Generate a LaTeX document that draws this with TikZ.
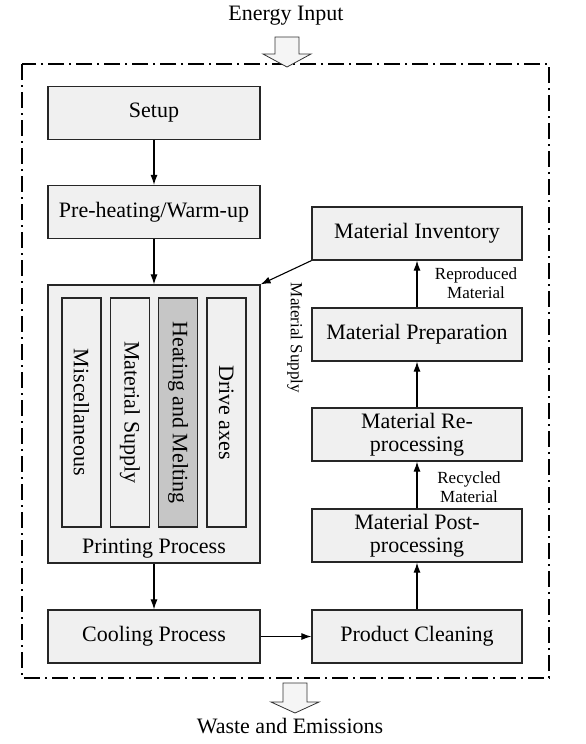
\documentclass[tikz,border=0pt]{standalone}
\usepackage{fontspec}
\setmainfont{Liberation Serif}
\usepackage{tikz}
\usetikzlibrary{positioning,arrows.meta}
\tikzset{%
  every stage/.style={
    rectangle,
    draw=black!85,
    line width=1.2pt,
    fill=gray!12,
    minimum width=212pt,
    minimum height=53pt,
    align=center,
    font=\fontsize{22}{23}\selectfont
  },
  sub stage/.style={
    every stage,
    minimum width=229pt,
    minimum height=39pt,
    rotate=-90
  },
  flow label/.style={
    align=center,
    font=\fontsize{17}{19}\selectfont
  },
  block arrow/.style={
    draw=black!80,
    line width=0.8pt,
    fill=gray!8
  },
  flow/.style={
    line width=1.1pt,
    ->
  },
}

\begin{document}
\begin{tikzpicture}[> = {Latex[length=10pt,width=7pt]}, x=1pt, y=-1pt]
\useasboundingbox (0,0) rectangle (586,744);
% system boundary
\draw[line width=1.5pt, dash pattern=on 16pt off 5pt on 2pt off 5pt] (22,64) rectangle (549,678);
\node[font=\fontsize{22}{23}\selectfont] (energy) at (286,16) {Energy Input};
\node[font=\fontsize{22}{23}\selectfont] (waste) at (290,726) {Waste and Emissions};
\draw[block arrow] (275,37) -- (299,37) -- (299,54) -- (311,54) -- (287,67) -- (263,54) -- (275,54) -- cycle;
\draw[block arrow] (283,683) -- (307,683) -- (307,702) -- (319,702) -- (295,713) -- (271,702) -- (283,702) -- cycle;

% left column
\node[every stage] (setup) at (154,113) {Setup};
\node[every stage] (preheat) at (154,212) {Pre-heating/Warm-up};
\node[every stage, minimum height=278pt] (print) at (154,424) {};
\node[font=\fontsize{22}{23}\selectfont] (print_label) at (154,549) {Printing Process};
\foreach \i/\name/\shade/\txt in {0/misc/12/Miscellaneous, 1/supply/12/Material Supply, 2/heat/45/Heating and Melting, 3/drive/12/Drive axes}
    \node[sub stage, fill=gray!\shade] (sub_\name) at (81.5+48.3*\i,412.5) {\txt};
\node[every stage] (cool) at (154,636.5) {Cooling Process};

% right column
\node[every stage, minimum width=210pt] (inventory) at (417,233.5) {Material Inventory};
\node[every stage, minimum width=210pt] (prep) at (417,334.5) {Material Preparation};
\node[every stage, minimum width=210pt] (reproc) at (417,434.5) {Material Re-\\processing};
\node[every stage, minimum width=210pt] (postproc) at (417,535.5) {Material Post-\\processing};
\node[every stage, minimum width=210pt] (clean) at (417,636.5) {Product Cleaning};

\node[flow label] (reproduced) at (476,283) {Reproduced\\Material};
\node[flow label] (recycled) at (469,487) {Recycled\\Material};
\node[flow label, rotate=-90] (supply_label) at (295,338) {Material Supply};

\draw[flow] (setup.south) -- (preheat.north);
\draw[flow] (preheat.south) -- (print.north);
\draw[flow] (print.south) -- (cool.north);
\draw[flow] (cool.east) -- (clean.west);
\draw[flow] (clean.north) -- (postproc.south);
\draw[flow] (postproc.north) -- (reproc.south);
\draw[flow] (reproc.north) -- (prep.south);
\draw[flow] (prep.north) -- (inventory.south);
\draw[flow] (inventory.south west) -- (print.north east);
\end{tikzpicture}
\end{document}
